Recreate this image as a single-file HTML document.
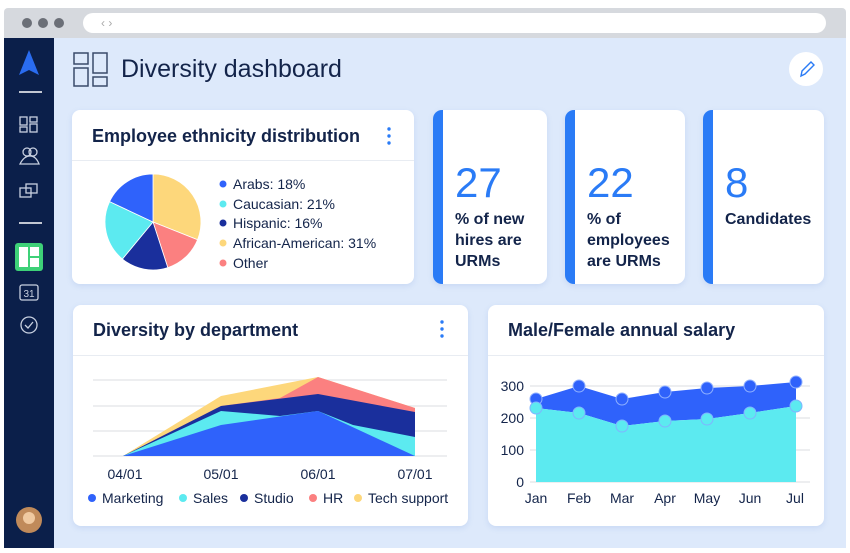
<!DOCTYPE html>
<html><head><meta charset="utf-8"><style>
*{margin:0;padding:0;box-sizing:border-box}
body{width:850px;height:553px;background:#fff;font-family:"Liberation Sans","DejaVu Sans",sans-serif;position:relative;overflow:hidden;color:#13244a}
.abs{position:absolute}
.card{position:absolute;background:#fff;border-radius:8px;box-shadow:0 2px 6px rgba(80,120,200,.15)}
.t{position:absolute;font-weight:600;color:#13244a;white-space:nowrap}
.stat{position:absolute;background:#fff;border-radius:9px;border-left:10px solid #2a7bf6;box-shadow:0 2px 6px rgba(80,120,200,.15)}
.num{position:absolute;left:12px;top:52px;font-size:42px;color:#2a7bf6;line-height:1}
.lab{position:absolute;left:12px;top:99px;font-size:16px;line-height:21px;font-weight:600;color:#13244a}
.leg{font-size:14px;color:#13244a}
</style></head><body>
<div class="abs" style="left:4px;top:8px;width:842px;height:30px;background:#d6d9de;border-radius:4px 4px 0 0"></div>
<div class="abs" style="left:22px;top:18px;width:10px;height:10px;border-radius:50%;background:#6b6f77"></div>
<div class="abs" style="left:38px;top:18px;width:10px;height:10px;border-radius:50%;background:#6b6f77"></div>
<div class="abs" style="left:54px;top:18px;width:10px;height:10px;border-radius:50%;background:#6b6f77"></div>
<div class="abs" style="left:83px;top:13px;width:743px;height:20px;background:#fff;border-radius:10px;font-size:12px;color:#aaa;padding-left:18px;line-height:20px">&lsaquo; &rsaquo;</div>
<div class="abs" style="left:54px;top:38px;width:792px;height:510px;background:#dde9fb"></div>
<div class="abs" style="left:4px;top:38px;width:50px;height:510px;background:#0b1f4a"></div>
<svg class="abs" style="left:4px;top:38px" width="50" height="510">
<path d="M25 12 L35 37 L25 32 L15 37 Z" fill="#2a6cf0"/>
<line x1="15" y1="54" x2="38" y2="54" stroke="#fff" stroke-width="1.5"/>
<g stroke="#c8d0e0" fill="none" stroke-width="1.3">
<rect x="16" y="79" width="7" height="8"/><rect x="26" y="79" width="7" height="5"/><rect x="16" y="89" width="7" height="5"/><rect x="26" y="86" width="7" height="8"/>
<circle cx="23" cy="114" r="4"/><circle cx="29" cy="114" r="4"/><path d="M16 126 q4 -8 10 -8 q6 0 9 8z"/>
<rect x="16" y="150" width="11" height="9"/><rect x="22" y="146" width="11" height="9"/>
<rect x="16" y="247" width="18" height="15" rx="2"/>
<circle cx="25" cy="287" r="8"/><path d="M21 287 l3 3 l5 -6"/>
</g>
<text x="25" y="259" font-size="10" fill="#c8d0e0" text-anchor="middle" font-family="Liberation Sans">31</text>
<line x1="15" y1="185" x2="38" y2="185" stroke="#fff" stroke-width="1.5"/>
<rect x="11" y="205" width="28" height="28" rx="3" fill="#3ed178"/>
<g fill="#fff"><rect x="15" y="209" width="9" height="20"/><rect x="26" y="209" width="9" height="9"/><rect x="26" y="220" width="9" height="9"/></g>
<circle cx="25" cy="482" r="13" fill="#c08a5a"/><circle cx="25" cy="480" r="6" fill="#f0c9a0"/>
</svg>
<svg class="abs" style="left:73px;top:52px" width="36" height="36" fill="none" stroke="#3a4a6a" stroke-width="1.5"><rect x="1" y="1" width="14" height="11"/><rect x="1" y="16" width="14" height="18"/><rect x="20" y="1" width="14" height="20"/><rect x="20" y="25" width="14" height="9"/></svg>
<div class="t" style="left:121px;top:55px;font-size:25px;font-weight:500">Diversity dashboard</div>
<div class="abs" style="left:789px;top:52px;width:34px;height:34px;border-radius:50%;background:#fff"></div>
<svg class="abs" style="left:789px;top:52px" width="34" height="34"><path d="M12 24 l1-5 l9-9 l3 3 l-9 9z" fill="none" stroke="#2a7bf6" stroke-width="1.4"/></svg>

<div class="card" style="left:72px;top:110px;width:342px;height:174px">
<div class="t" style="left:20px;top:16px;font-size:18px">Employee ethnicity distribution</div>
<div class="abs" style="left:0;top:50px;width:342px;height:1px;background:#e8ecf2"></div>
</div>
<svg class="abs" style="left:72px;top:110px" width="342" height="174">
<g fill="#2a7bf6"><circle cx="317" cy="19" r="1.7"/><circle cx="317" cy="26" r="1.7"/><circle cx="317" cy="33" r="1.7"/></g>
<g transform="translate(-72,-110)" stroke="#fff" stroke-width="0.8">
<path d="M153 222 L153 174 A48 48 0 0 1 197.6 239.7Z" fill="#fdd77b"/>
<path d="M153 222 L197.6 239.7 A48 48 0 0 1 167.8 267.6Z" fill="#fb8080"/>
<path d="M153 222 L167.8 267.6 A48 48 0 0 1 122.4 259Z" fill="#1a2f9c"/>
<path d="M153 222 L122.4 259 A48 48 0 0 1 109.6 201.6Z" fill="#5ceaf0"/>
<path d="M153 222 L109.6 201.6 A48 48 0 0 1 153 174Z" fill="#2f62fb"/>
</g>
<g transform="translate(-72,-110)" font-size="14" fill="#13244a" font-family="Liberation Sans">
<circle cx="223" cy="184" r="3.5" fill="#2f62fb"/><text x="233" y="189">Arabs: 18%</text>
<circle cx="223" cy="204" r="3.5" fill="#5ceaf0"/><text x="233" y="209">Caucasian: 21%</text>
<circle cx="223" cy="223" r="3.5" fill="#1a2f9c"/><text x="233" y="228">Hispanic: 16%</text>
<circle cx="223" cy="243" r="3.5" fill="#fdd77b"/><text x="233" y="248">African-American: 31%</text>
<circle cx="223" cy="263" r="3.5" fill="#fb8080"/><text x="233" y="268">Other</text>
</g></svg>

<div class="stat" style="left:433px;top:110px;width:114px;height:174px"><div class="num">27</div><div class="lab">% of new<br>hires are<br>URMs</div></div>
<div class="stat" style="left:565px;top:110px;width:120px;height:174px"><div class="num">22</div><div class="lab">% of<br>employees<br>are URMs</div></div>
<div class="stat" style="left:703px;top:110px;width:121px;height:174px"><div class="num">8</div><div class="lab">Candidates</div></div>

<div class="card" style="left:73px;top:305px;width:395px;height:221px">
<div class="t" style="left:20px;top:15px;font-size:18px">Diversity by department</div>
<div class="abs" style="left:0;top:50px;width:395px;height:1px;background:#e8ecf2"></div>
</div>
<svg class="abs" style="left:0;top:0" width="850" height="553" font-family="Liberation Sans">
<g fill="#2a7bf6"><circle cx="442" cy="322" r="1.7"/><circle cx="442" cy="329" r="1.7"/><circle cx="442" cy="336" r="1.7"/>
<circle cx="799" cy="322" r="1.7"/><circle cx="799" cy="329" r="1.7"/><circle cx="799" cy="336" r="1.7"/></g>
<g stroke="#e2e4e8" stroke-width="1.2"><line x1="93" y1="380" x2="447" y2="380"/><line x1="93" y1="406" x2="447" y2="406"/><line x1="93" y1="431" x2="447" y2="431"/><line x1="93" y1="456" x2="447" y2="456"/></g>
<polygon points="123,456 221,396 318,377 415,408 415,456" fill="#fdd77b"/>
<polygon points="123,456 221,406 280,398 318,377 415,408 415,456" fill="#fb8080"/>
<polygon points="123,456 221,406 318,394 415,412 415,456" fill="#1a2f9c"/>
<polygon points="123,456 221,411 280,416 318,411 353,425 415,437 415,456" fill="#5ceaf0"/>
<polygon points="123,456 221,425 318,411 415,456" fill="#2f62fb"/>
<g font-size="14" fill="#13244a" text-anchor="middle"><text x="125" y="479">04/01</text><text x="221" y="479">05/01</text><text x="318" y="479">06/01</text><text x="415" y="479">07/01</text></g>
<g font-size="14" fill="#13244a">
<circle cx="92" cy="498" r="4" fill="#2f62fb"/><text x="102" y="503">Marketing</text>
<circle cx="183" cy="498" r="4" fill="#5ceaf0"/><text x="193" y="503">Sales</text>
<circle cx="244" cy="498" r="4" fill="#1a2f9c"/><text x="254" y="503">Studio</text>
<circle cx="313" cy="498" r="4" fill="#fb8080"/><text x="323" y="503">HR</text>
<circle cx="358" cy="498" r="4" fill="#fdd77b"/><text x="368" y="503">Tech support</text>
</g>
</svg>

<div class="card" style="left:488px;top:305px;width:336px;height:221px">
<div class="t" style="left:20px;top:15px;font-size:18px">Male/Female annual salary</div>
<div class="abs" style="left:0;top:50px;width:336px;height:1px;background:#e8ecf2"></div>
</div>
<svg class="abs" style="left:0;top:0" width="850" height="553" font-family="Liberation Sans">
<g stroke="#e2e4e8" stroke-width="1.2"><line x1="530" y1="386" x2="810" y2="386"/><line x1="530" y1="418" x2="810" y2="418"/><line x1="530" y1="450" x2="810" y2="450"/><line x1="530" y1="482" x2="810" y2="482"/></g>
<polygon points="536,399 579,386 622,399 665,392 707,388 750,386 796,382 796,406 750,413 707,419 665,421 622,426 579,413 536,408" fill="#2f62fb"/>
<polygon points="536,408 579,413 622,426 665,421 707,419 750,413 796,406 796,482 536,482" fill="#5ceaf0"/>
<g fill="#2f62fb" stroke="#8fb0ff" stroke-width="1"><circle cx="536" cy="399" r="6"/><circle cx="579" cy="386" r="6"/><circle cx="622" cy="399" r="6"/><circle cx="665" cy="392" r="6"/><circle cx="707" cy="388" r="6"/><circle cx="750" cy="386" r="6"/><circle cx="796" cy="382" r="6"/></g>
<g fill="#5ceaf0" stroke="#7fb4ff" stroke-width="1"><circle cx="536" cy="408" r="6"/><circle cx="579" cy="413" r="6"/><circle cx="622" cy="426" r="6"/><circle cx="665" cy="421" r="6"/><circle cx="707" cy="419" r="6"/><circle cx="750" cy="413" r="6"/><circle cx="796" cy="406" r="6"/></g>
<g font-size="14" fill="#13244a" text-anchor="end"><text x="524" y="391">300</text><text x="524" y="423">200</text><text x="524" y="455">100</text><text x="524" y="487">0</text></g>
<g font-size="14" fill="#13244a" text-anchor="middle"><text x="536" y="503">Jan</text><text x="579" y="503">Feb</text><text x="622" y="503">Mar</text><text x="665" y="503">Apr</text><text x="707" y="503">May</text><text x="750" y="503">Jun</text><text x="795" y="503">Jul</text></g>
</svg>
</body></html>
